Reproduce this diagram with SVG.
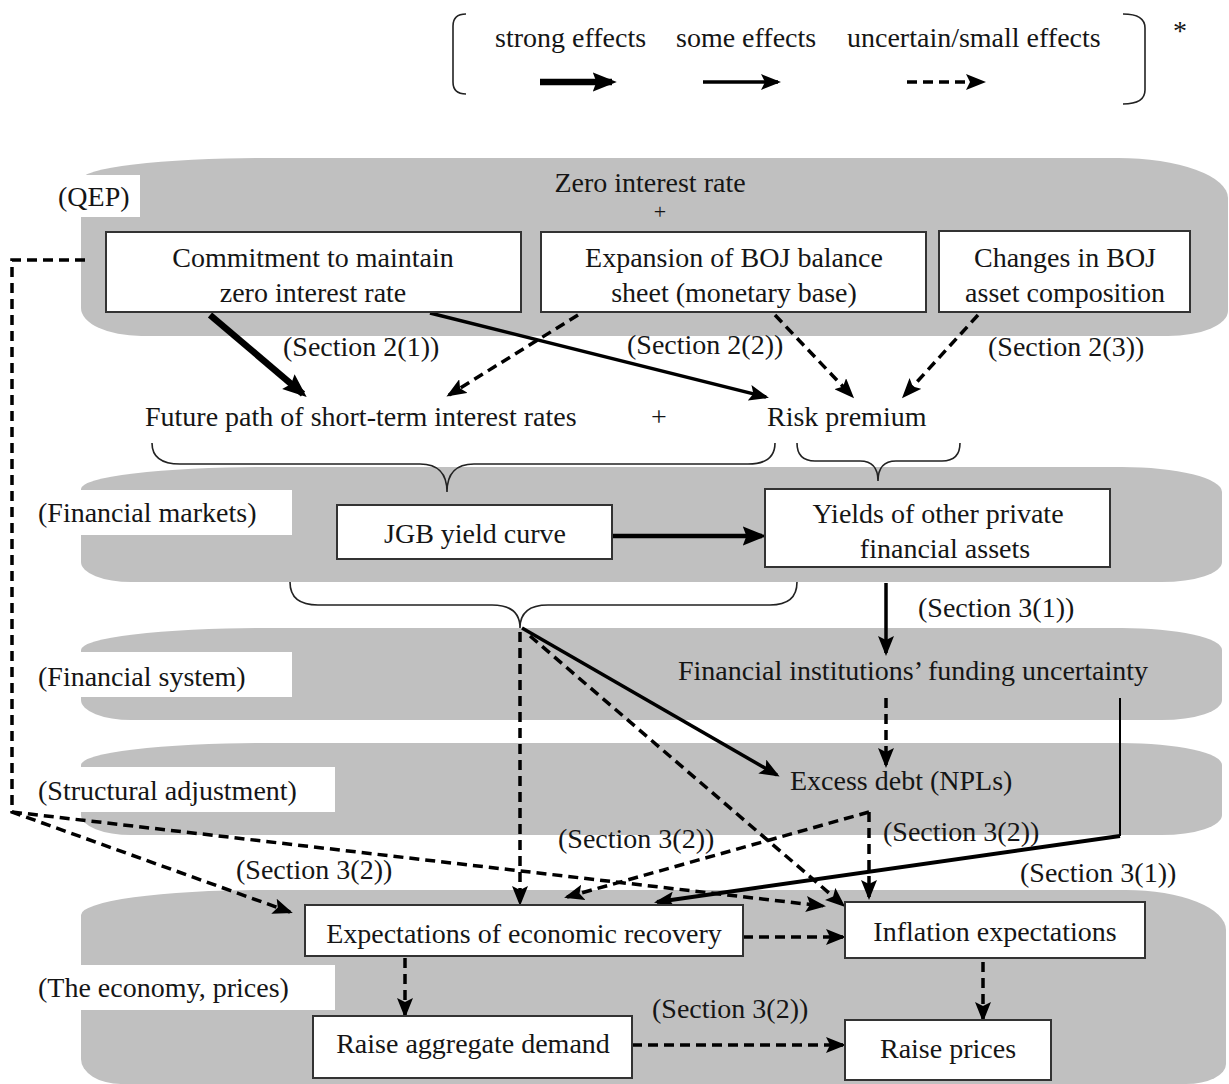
<svg xmlns="http://www.w3.org/2000/svg" width="1229" height="1084" viewBox="0 0 1229 1084">
<style>
.t{font-family:"Liberation Serif","Times New Roman",serif;font-size:28px;fill:#151515}
.m{text-anchor:middle}
.band{fill:#c0c0c0}
.lab{fill:#fff}
.box{fill:#fff;stroke:#333;stroke-width:2}
.s{fill:none;stroke:#000;stroke-width:3.5}
.st{fill:none;stroke:#000;stroke-width:6.5}
.d{fill:none;stroke:#000;stroke-width:3.5;stroke-dasharray:10 6}
.br{fill:none;stroke:#222;stroke-width:1.6}
</style>
<defs>
<marker id="h" viewBox="0 0 20 16" refX="17" refY="8" markerWidth="20" markerHeight="16" orient="auto" markerUnits="userSpaceOnUse"><path d="M0,0 L20,8 L0,16 L4,8 z" fill="#000"/></marker>
<marker id="hs" viewBox="0 0 20 16" refX="16" refY="8" markerWidth="24" markerHeight="20" orient="auto" markerUnits="userSpaceOnUse"><path d="M0,0 L20,8 L0,16 L3,8 z" fill="#000"/></marker>
</defs>
<rect width="1229" height="1084" fill="#fff"/>

<g id="legend">
<path class="br" d="M466,14 Q453,14 453,26 L453,82 Q453,94 466,94"/>
<path class="br" d="M1123,14 Q1145,14 1145,28 L1145,90 Q1145,104 1123,104"/>
<text class="t" x="495" y="47">strong effects</text>
<text class="t" x="676" y="47">some effects</text>
<text class="t" x="847" y="47">uncertain/small effects</text>
<text class="t" x="1173" y="40">*</text>
<line class="st" x1="540" y1="82" x2="612" y2="82" marker-end="url(#hs)"/>
<line class="s" x1="703" y1="82" x2="778" y2="82" marker-end="url(#h)"/>
<line class="d" x1="907" y1="82" x2="983" y2="82" marker-end="url(#h)"/>
</g>

<g id="bands">
<path class="band" d="M261,158 H1118 A110 40 0 0 1 1228,198 V311 A60 25 0 0 1 1168,336 H141 A60 28 0 0 1 81,308 V180 A180 22 0 0 1 261,158 Z"/>
<path class="band" d="M261,467 H1122 A100 25 0 0 1 1222,492 V562 A60 20 0 0 1 1162,582 H131 A50 20 0 0 1 81,562 V489 A180 22 0 0 1 261,467 Z"/>
<path class="band" d="M261,628 H1122 A100 22 0 0 1 1222,650 V700 A60 20 0 0 1 1162,720 H131 A50 20 0 0 1 81,700 V650 A180 22 0 0 1 261,628 Z"/>
<path class="band" d="M261,743 H1122 A100 22 0 0 1 1222,765 V815 A60 20 0 0 1 1162,835 H131 A50 20 0 0 1 81,815 V765 A180 22 0 0 1 261,743 Z"/>
<path class="band" d="M261,890 H1126 A100 40 0 0 1 1226,930 V1064 A40 20 0 0 1 1186,1084 H121 A40 25 0 0 1 81,1059 V915 A180 25 0 0 1 261,890 Z"/>
</g>

<g id="layer-labels">
<rect class="lab" x="50" y="175" width="90" height="42"/>
<text class="t" x="58" y="206">(QEP)</text>
<rect class="lab" x="30" y="490" width="262" height="45"/>
<text class="t" x="38" y="522">(Financial markets)</text>
<rect class="lab" x="30" y="652" width="262" height="45"/>
<text class="t" x="38" y="686">(Financial system)</text>
<rect class="lab" x="30" y="767" width="305" height="45"/>
<text class="t" x="38" y="800">(Structural adjustment)</text>
<rect class="lab" x="30" y="965" width="305" height="45"/>
<text class="t" x="38" y="997">(The economy, prices)</text>
</g>

<g id="braces">
<path class="br" d="M152,443 Q152,464 180,464 L420,464 Q447,464 447,492 Q447,464 474,464 L748,464 Q775,464 775,443"/>
<path class="br" d="M797,443 Q797,461 815,461 L860,461 Q878,461 878,481 Q878,461 896,461 L942,461 Q960,461 960,443"/>
<path class="br" d="M290,582 Q290,605 318,605 L492,605 Q520,605 520,628 Q520,605 548,605 L770,605 Q797,605 797,582"/>
</g>

<g id="connectors">
<line class="st" x1="210" y1="315" x2="303" y2="394" marker-end="url(#hs)"/>
<line class="s" x1="430" y1="313" x2="766" y2="397" marker-end="url(#h)"/>
<line class="d" x1="578" y1="315" x2="449" y2="395" marker-end="url(#h)"/>
<line class="d" x1="775" y1="315" x2="852" y2="396" marker-end="url(#h)"/>
<line class="d" x1="978" y1="315" x2="904" y2="396" marker-end="url(#h)"/>
<line class="st" x1="612" y1="536" x2="762" y2="536" marker-end="url(#hs)" style="stroke-width:4.5"/>
<line class="s" x1="886" y1="583" x2="886" y2="653" marker-end="url(#h)"/>
<line class="d" x1="886" y1="698" x2="886" y2="765" marker-end="url(#h)"/>
<line class="s" x1="522" y1="628" x2="777" y2="775" marker-end="url(#h)"/>
<line class="d" x1="530" y1="636" x2="843" y2="905" marker-end="url(#h)"/>
<line class="d" x1="520" y1="632" x2="520" y2="903" marker-end="url(#h)"/>
<path class="d" d="M85,260 L12,260 L12,812 L290,912" marker-end="url(#h)"/>
<line class="d" x1="12" y1="812" x2="823" y2="906" marker-end="url(#h)"/>
<line class="d" x1="869" y1="812" x2="869" y2="897" marker-end="url(#h)"/>
<line class="d" x1="869" y1="812" x2="567" y2="897" marker-end="url(#h)"/>
<path fill="none" stroke="#000" stroke-width="2" d="M1120,698 L1120,836"/>
<line class="s" x1="1120" y1="836" x2="657" y2="902" marker-end="url(#h)" style="stroke-width:4"/>
<line class="d" x1="743" y1="937" x2="843" y2="937" marker-end="url(#h)"/>
<line class="d" x1="405" y1="958" x2="405" y2="1015" marker-end="url(#h)"/>
<line class="d" x1="983" y1="962" x2="983" y2="1019" marker-end="url(#h)"/>
<line class="d" x1="632" y1="1045" x2="843" y2="1045" marker-end="url(#h)"/>
</g>

<g id="section-labels">
<text class="t" x="283" y="356">(Section 2(1))</text>
<text class="t" x="627" y="354">(Section 2(2))</text>
<text class="t" x="988" y="356">(Section 2(3))</text>
<text class="t" x="918" y="617">(Section 3(1))</text>
<text class="t" x="558" y="848">(Section 3(2))</text>
<text class="t" x="883" y="841">(Section 3(2))</text>
<text class="t" x="236" y="879">(Section 3(2))</text>
<text class="t" x="1020" y="882">(Section 3(1))</text>
<text class="t" x="652" y="1018">(Section 3(2))</text>
</g>

<g id="zero-rate">
<text class="t m" x="650" y="192">Zero interest rate</text>
<text class="t m" x="660" y="219" style="font-size:22px">+</text>
</g>
<g id="commitment">
<rect class="box" x="106" y="232" width="415" height="80"/>
<text class="t m" x="313" y="267">Commitment to maintain</text>
<text class="t m" x="313" y="302">zero interest rate</text>
</g>
<g id="expansion">
<rect class="box" x="541" y="232" width="385" height="80"/>
<text class="t m" x="734" y="267">Expansion of BOJ balance</text>
<text class="t m" x="734" y="302">sheet (monetary base)</text>
</g>
<g id="changes">
<rect class="box" x="939" y="231" width="251" height="81"/>
<text class="t m" x="1065" y="267">Changes in BOJ</text>
<text class="t m" x="1065" y="302">asset composition</text>
</g>
<g id="future-path">
<text class="t" x="145" y="426">Future path of short-term interest rates</text>
<text class="t m" x="659" y="426">+</text>
</g>
<g id="risk-premium">
<text class="t" x="767" y="426">Risk premium</text>
</g>
<g id="jgb">
<rect class="box" x="337" y="505" width="275" height="54"/>
<text class="t m" x="475" y="543">JGB yield curve</text>
</g>
<g id="yields">
<rect class="box" x="765" y="489" width="345" height="78"/>
<text class="t m" x="938" y="523">Yields of other private</text>
<text class="t m" x="945" y="558">financial assets</text>
</g>
<g id="funding">
<text class="t" x="678" y="680">Financial institutions’ funding uncertainty</text>
</g>
<g id="excess-debt">
<text class="t" x="790" y="790">Excess debt (NPLs)</text>
</g>
<g id="recovery">
<rect class="box" x="305" y="905" width="438" height="51"/>
<text class="t m" x="524" y="943">Expectations of economic recovery</text>
</g>
<g id="inflation">
<rect class="box" x="845" y="902" width="300" height="56"/>
<text class="t m" x="995" y="941">Inflation expectations</text>
</g>
<g id="demand">
<rect class="box" x="313" y="1016" width="319" height="62"/>
<text class="t m" x="473" y="1053">Raise aggregate demand</text>
</g>
<g id="prices">
<rect class="box" x="845" y="1020" width="206" height="60"/>
<text class="t m" x="948" y="1058">Raise prices</text>
</g>
</svg>
